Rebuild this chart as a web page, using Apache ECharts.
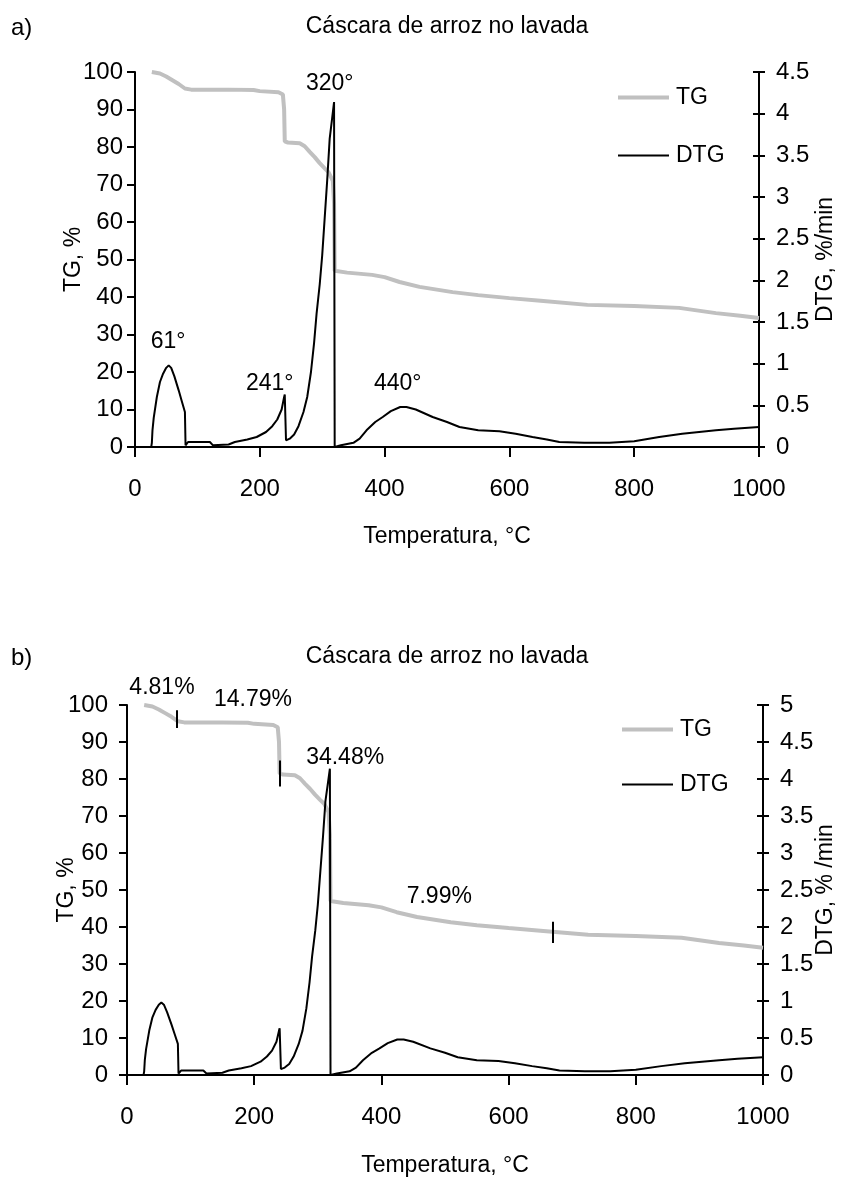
<!DOCTYPE html>
<html>
<head>
<meta charset="utf-8">
<script src="https://cdn.jsdelivr.net/npm/echarts@6/dist/echarts.min.js"></script>
<style>
html, body { margin: 0; padding: 0; background: #fff; }
#main { width: 841px; height: 1180px; }
</style>
</head>
<body>
<div id="main"></div>
<script>
var chart = echarts.init(document.getElementById('main'));

/* TG curve (mass, %) */
var tgTemp = [27, 40, 50, 60, 70, 80, 90, 150, 190, 200, 230, 237, 239, 240, 245, 264, 272, 280, 288, 296, 304, 310, 317, 319, 320,
              340, 380, 400, 424, 456, 509, 550, 600, 650, 725, 800, 872, 931, 970, 1000];
var tgVal  = [100, 99.6, 98.8, 97.8, 96.8, 95.6, 95.3, 95.3, 95.2, 94.9, 94.6, 94, 90, 81.5, 81.2, 81, 80.2, 78.7, 77.3, 75.7, 74.3, 73.3, 71, 65, 47,
              46.5, 45.9, 45.3, 44, 42.7, 41.3, 40.5, 39.7, 39, 37.9, 37.6, 37.1, 35.7, 35, 34.4];

/* DTG curve (%/min) */
var dtgTemp = [26, 27, 28, 30, 35, 40, 45, 50, 54, 58, 63, 70, 75, 80, 81, 85, 120, 125, 150, 160, 180, 195, 210, 220, 228, 235, 239, 240,
               242, 248, 255, 262, 270, 276, 282, 287, 291, 296, 300, 304, 308, 312, 316, 319, 320,
               330, 350, 360, 371, 385, 397, 410, 425, 435, 450, 477, 500, 520, 550, 584, 610, 637, 660, 680, 720, 760, 800, 840, 877, 931, 960, 1000];
var dtgVal  = [0, 0.05, 0.2, 0.35, 0.6, 0.78, 0.88, 0.95, 0.98, 0.95, 0.85, 0.68, 0.55, 0.42, 0.02, 0.06, 0.06, 0.02, 0.03, 0.06, 0.09, 0.12, 0.18, 0.25, 0.33, 0.45, 0.6, 0.63,
               0.08, 0.1, 0.15, 0.25, 0.42, 0.6, 0.9, 1.25, 1.6, 1.95, 2.3, 2.75, 3.2, 3.7, 3.95, 4.14, 0,
               0.02, 0.05, 0.1, 0.2, 0.3, 0.36, 0.43, 0.48, 0.48, 0.45, 0.36, 0.3, 0.24, 0.2, 0.19, 0.16, 0.12, 0.09, 0.06, 0.05, 0.05, 0.07, 0.12, 0.16, 0.2, 0.22, 0.24];

var tempMax = 1000, tempStep = 200;
var tgMax = 100, tgStep = 10;
var dtgMaxA = 4.5, dtgMaxB = 5, dtgStep = 0.5;

/* peak temperatures (a) and mass losses (b), anchored at [T, TG] */
var peakText = ['61°', '241°', '320°', '440°'];
var peakAt = [[53, 28], [216, 17], [312, 96.8], [421, 16.8]];
var lossText = ['4.81%', '14.79%', '34.48%', '7.99%'];
var lossAt = [[55, 104.6], [198, 101.4], [343, 85.9], [491, 48.1]];
/* small vertical marks on TG in (b): [T, from, to] */
var stepMarks = [[79, 98.6, 93.8], [240, 85, 78], [670, 41.4, 35.7]];

var FONT = '"Liberation Sans", Arial, sans-serif';
var GREY = '#c0c0c0';

function pairs(xs, ys) {
    var out = [];
    for (var i = 0; i < xs.length; i++) out.push([xs[i], ys[i]]);
    return out;
}
function plain(v) { return String(v); }

function xAxisFor(grid) {
    return {
        type: 'value', gridIndex: grid, min: 0, max: tempMax, interval: tempStep,
        name: 'Temperatura, °C', nameLocation: 'middle', nameGap: grid === 0 ? 78 : 79, nameMoveOverlap: false,
        nameTextStyle: { fontSize: 23, color: '#000', fontFamily: FONT },
        axisLine: { lineStyle: { color: '#000', width: 2 } },
        axisTick: { length: 10, lineStyle: { color: '#000', width: 2 } },
        axisLabel: { margin: 30, fontSize: 24, color: '#000', fontFamily: FONT, formatter: plain },
        splitLine: { show: false }
    };
}
function tgAxisFor(grid, margin, gap) {
    return {
        type: 'value', gridIndex: grid, position: 'left', min: 0, max: tgMax, interval: tgStep,
        name: 'TG, %', nameLocation: 'middle', nameGap: gap, nameRotate: 90, nameMoveOverlap: false,
        nameTextStyle: { fontSize: 23, color: '#000', fontFamily: FONT },
        axisLine: { show: true, lineStyle: { color: '#000', width: 2 } },
        axisTick: { show: true, length: 8, lineStyle: { color: '#000', width: 2 } },
        axisLabel: { margin: margin, fontSize: 24, color: '#000', fontFamily: FONT, formatter: plain },
        splitLine: { show: false }
    };
}
function dtgAxisFor(grid, max, name, gap) {
    return {
        type: 'value', gridIndex: grid, position: 'right', min: 0, max: max, interval: dtgStep,
        name: name, nameLocation: 'middle', nameGap: gap, nameRotate: 90, nameMoveOverlap: false,
        nameTextStyle: { fontSize: 23, color: '#000', fontFamily: FONT },
        axisLine: { show: true, lineStyle: { color: '#000', width: 2 } },
        axisTick: { show: true, length: 6, lineStyle: { color: '#000', width: 2 } },
        axisLabel: { margin: 17, fontSize: 24, color: '#000', fontFamily: FONT, formatter: plain },
        splitLine: { show: false }
    };
}
function innerTicksFor(grid, max) {
    return {
        type: 'value', gridIndex: grid, position: 'right', min: 0, max: max, interval: dtgStep,
        axisLine: { show: false },
        axisTick: { show: true, inside: true, length: 6, lineStyle: { color: '#000', width: 2 } },
        axisLabel: { show: false },
        splitLine: { show: false }
    };
}
function legendAt(name, left, top) {
    var isTG = name === 'TG';
    return {
        data: [{ name: name, icon: 'rect', itemStyle: { color: isTG ? GREY : '#000' } }],
        left: left, top: top, padding: 0, itemGap: 0,
        itemWidth: 51, itemHeight: isTG ? 4 : 2,
        textStyle: { fontSize: 23, color: '#000', fontFamily: FONT, padding: [0, 0, 0, 2] }
    };
}

var tgData = pairs(tgTemp, tgVal);
var dtgData = pairs(dtgTemp, dtgVal);

var marks = stepMarks.map(function (m) {
    return [{ coord: [m[0], m[1]] }, { coord: [m[0], m[2]] }];
});

var lineTG = { color: GREY, width: 4 };
var lineDTG = { color: '#000', width: 2 };

var option = {
    backgroundColor: '#fff',
    animation: false,
    textStyle: { fontFamily: FONT },
    grid: [
        { left: 135, right: 82, top: 72, height: 375, outerBoundsMode: 'none', containLabel: false },
        { left: 127, right: 78, top: 705, height: 370, outerBoundsMode: 'none', containLabel: false }
    ],
    legend: [
        legendAt('TG', 618, 86),
        legendAt('DTG', 618, 144),
        legendAt('TG', 622, 718),
        legendAt('DTG', 622, 773)
    ],
    xAxis: [xAxisFor(0), xAxisFor(1)],
    yAxis: [
        tgAxisFor(0, 12, 50),
        dtgAxisFor(0, dtgMaxA, 'DTG, %/min', 55),
        innerTicksFor(0, dtgMaxA),
        tgAxisFor(1, 19, 49),
        dtgAxisFor(1, dtgMaxB, 'DTG, % /min', 51),
        innerTicksFor(1, dtgMaxB)
    ],
    series: [
        { name: 'TG', type: 'line', xAxisIndex: 0, yAxisIndex: 0, data: tgData,
          showSymbol: false, symbol: 'none', lineStyle: lineTG, itemStyle: { color: GREY } },
        { name: 'DTG', type: 'line', xAxisIndex: 0, yAxisIndex: 1, data: dtgData,
          showSymbol: false, symbol: 'none', lineStyle: lineDTG, itemStyle: { color: '#000' } },
        { name: 'TG', type: 'line', xAxisIndex: 1, yAxisIndex: 3, data: tgData,
          showSymbol: false, symbol: 'none', lineStyle: lineTG, itemStyle: { color: GREY },
          markLine: { silent: true, symbol: 'none', label: { show: false },
                      lineStyle: { color: '#000', width: 2, type: 'solid' }, data: marks } },
        { name: 'DTG', type: 'line', xAxisIndex: 1, yAxisIndex: 4, data: dtgData,
          showSymbol: false, symbol: 'none', lineStyle: lineDTG, itemStyle: { color: '#000' } }
    ]
};
chart.setOption(option);

/* titles and annotations */
function txt(s, x, y, size, align) {
    return { type: 'text', x: x, y: y, silent: true,
             style: { text: s, font: size + 'px ' + FONT, fill: '#000',
                      align: align || 'center', verticalAlign: 'middle' } };
}
var g = [
    txt('a)', 11, 28, 24, 'left'),
    txt('Cáscara de arroz no lavada', 447, 27, 23),
    txt('b)', 11, 658, 24, 'left'),
    txt('Cáscara de arroz no lavada', 447, 657, 23)
];
peakText.forEach(function (s, i) {
    var p = chart.convertToPixel({ gridIndex: 0 }, peakAt[i]);
    g.push(txt(s, p[0], p[1], 23));
});
lossText.forEach(function (s, i) {
    var p = chart.convertToPixel({ gridIndex: 1 }, lossAt[i]);
    g.push(txt(s, p[0], p[1], 23));
});
chart.setOption({ graphic: g });
</script>
</body>
</html>
